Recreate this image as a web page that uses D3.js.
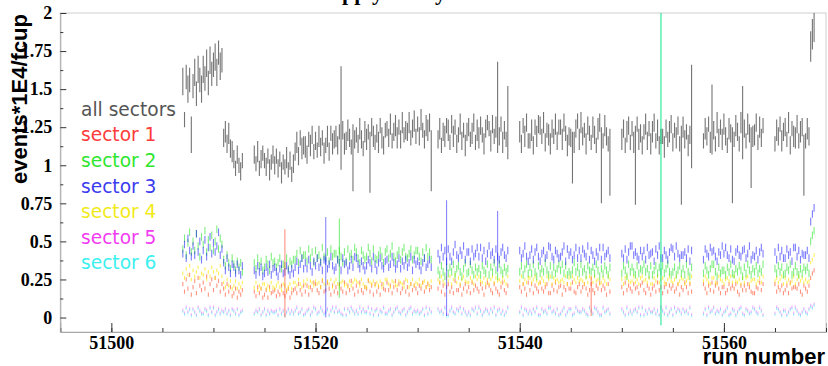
<!DOCTYPE html>
<html>
<head>
<meta charset="utf-8">
<script src="https://cdn.jsdelivr.net/npm/d3@7"></script>
<style>
  body { margin: 0; background: #fff; }
  svg { display: block; }
</style>
</head>
<body>
<svg id="yieldChart" width="828" height="366"></svg>
<script>
// runs with data, every run is split in 6 files (x = run + file/6)
const runs = [51507, 51508, 51509, 51510, 51511, 51512,
  51514, 51515, 51516, 51517, 51518, 51519, 51520, 51521, 51522, 51523, 51524, 51525,
  51526, 51527, 51528, 51529, 51530, 51531,
  51532, 51533, 51534, 51535, 51536, 51537, 51538,
  51540, 51541, 51542, 51543, 51544, 51545, 51546, 51547, 51548,
  51550, 51551, 51552, 51553, 51554, 51555, 51556,
  51558, 51559, 51560, 51561, 51562, 51563,
  51565, 51566, 51567, 51568];
const filesPerRun = 6;

// values are events*1E4/fcup in hundredths
const allSectors = [
  155,130,158,150,156,120, 152,161,147,163,156,150, 163,157,167,154,169,160,
  166,171,161,174,165,169, 118,122,114,121,111,109, 104,98,107,100,96,103,
  107,101,109,98,104,108, 103,99,106,97,102,107, 100,106,98,104,95,102,
  99,105,97,103,94,101, 109,115,106,118,111,113, 112,107,117,113,120,109,
  116,110,119,112,118,108, 113,119,109,121,114,117, 119,113,122,131,123,114,
  116,123,118,112,105,117, 120,114,124,117,111,122, 117,122,102,125,119,115,
  121,115,126,118,113,123, 124,118,127,116,122,126, 118,125,117,128,120,123,
  122,128,118,124,129,119, 127,119,130,123,117,126, 123,128,103,null,null,null,
  117,124,113,122,119,126, 123,115,127,119,125,114, 120,127,116,123,113,122,
  125,117,121,128,115,123, 118,126,120,114,124,128, 124,116,127,119,125,138,
  119,127,115,123,117,128,
  122,114,126,119,128,116, 116,123,113,125,119,127, 126,119,128,115,123,120,
  114,124,119,127,116,125, 125,117,128,121,113,119, 118,105,115,124,129,117,
  128,119,123,114,126,121, 115,125,120,113,124,128, 100,116,126,119,114,102,
  117,124,113,122,126,115, 124,115,100,127,117,121, 113,122,127,116,124,114,
  122,128,116,123,113,119, 119,112,124,117,122,127, 115,123,118,126,114,100,
  125,117,122,113,120,132,
  116,124,119,127,115,130, 123,114,128,118,125,117, 127,119,113,124,121,100,
  117,126,122,114,128,128, 124,116,127,121,105,119, 120,128,115,125,118,126,
  114,123,119,127,116,122, 125,117,128,113,124,119, 118,127,116,122,125,100,
  116,124,119,178,186,193
];
const allSectorsErr = [
  9,5,8,9,8,12, 8,9,8,9,8,9, 9,8,9,8,9,8,
  8,9,9,8,9,8, 6,7,6,7,6,7, 6,5,6,5,6,5,
  6,5,7,5,6,5, 5,6,5,7,5,6, 6,5,6,5,7,5,
  5,7,5,6,5,6, 6,7,6,5,7,6, 7,6,5,7,6,5,
  6,5,7,6,5,7, 5,7,6,5,7,6, 7,6,5,34,6,7,
  6,7,6,5,22,6, 5,6,7,6,5,7, 7,5,20,6,7,5,
  6,7,5,7,6,5, 5,6,7,5,6,7, 7,5,6,7,5,6,
  6,7,5,6,7,5, 5,6,7,5,6,7, 7,6,20,0,0,0,
  6,7,5,6,7,5, 7,5,6,7,5,6, 5,7,6,5,7,6,
  6,5,7,6,5,7, 7,6,5,7,6,5, 5,7,6,5,7,30,
  6,5,7,6,5,24,
  7,6,5,7,6,5, 5,7,6,5,7,6, 6,5,7,6,5,7,
  7,6,5,7,6,5, 5,7,6,5,7,6, 6,17,7,6,5,7,
  7,6,5,7,6,5, 5,7,6,5,7,6, 25,5,7,6,5,22,
  7,6,5,7,6,5, 5,7,26,5,7,6, 6,5,7,6,5,7,
  7,6,5,7,6,5, 5,7,6,5,7,6, 6,5,7,6,5,26,
  7,6,5,7,6,34,
  5,7,6,5,7,23, 6,5,7,6,5,7, 7,6,5,7,6,25,
  5,7,6,5,7,24, 6,5,7,6,20,7, 7,6,5,7,6,5,
  5,7,6,5,7,6, 6,5,7,6,5,7, 7,6,5,7,6,20,
  5,7,6,10,10,12
];

const sector1 = [
  22,17,25,19,28,15, 20,24,16,26,21,18, 23,19,27,15,22,25,
  18,26,21,24,17,22, 19,15,22,17,20,14, 16,19,13,17,15,18,
  17,14,20,16,19,13, 15,18,13,20,16,17, 18,14,17,15,21,16,
  14,17,19,13,16,18, 19,16,22,18,15,21, 17,21,15,20,18,23,
  22,18,16,20,24,17, 18,23,19,15,21,17, 20,16,22,19,17,23,
  16,21,18,24,19,15, 21,17,23,18,16,20, 19,24,17,21,15,22,
  17,20,15,22,19,18, 23,18,21,16,20,24, 18,22,16,19,23,17,
  20,15,22,18,21,19, 16,21,19,23,17,20, 22,18,20,null,null,null,
  19,23,17,21,15,20, 22,17,20,16,24,18, 18,21,15,19,22,17,
  20,16,23,18,21,19, 17,22,19,15,20,23, 21,18,16,22,19,17,
  15,20,23,18,16,21,
  20,17,22,19,15,23, 18,22,16,21,19,17, 23,19,17,20,22,16,
  16,21,18,23,17,20, 21,15,20,18,22,19, 19,23,17,16,20,22,
  17,20,22,19,15,18, 22,18,16,21,19,23, 18,21,19,15,22,17,
  20,16,23,18,21,19, 17,22,19,20,16,21, 23,18,16,21,19,15,
  19,21,17,23,18,20, 16,20,22,17,21,19, 21,17,19,22,15,20,
  18,23,20,16,22,17,
  22,19,16,21,18,23, 17,21,23,19,16,20, 20,16,18,22,19,21,
  19,22,17,15,21,18, 21,18,22,20,17,16, 16,20,19,23,18,22,
  22,17,20,18,21,16, 18,21,16,23,19,20, 20,19,22,17,15,21,
  19,17,21,26,29,31
];
const sector2 = [
  45,52,41,49,56,43, 50,44,55,47,40,53, 48,57,43,51,46,54,
  44,50,58,45,52,48, 38,34,41,36,32,39, 35,31,37,33,36,30,
  36,32,39,34,37,31, 33,38,35,31,40,36, 37,33,36,39,32,35,
  34,39,32,37,35,38, 38,42,36,44,39,41, 41,37,45,39,43,36,
  44,39,41,37,46,40, 39,43,37,45,40,42, 42,38,44,40,36,43,
  37,45,40,42,38,46, 43,39,36,44,41,38, 40,46,42,37,45,39,
  38,41,44,40,36,43, 45,39,42,47,40,37, 41,44,38,43,46,40,
  39,42,45,38,41,44, 44,40,37,43,39,46, 40,43,38,null,null,null,
  31,28,34,30,27,33, 29,33,30,35,28,32, 34,30,27,32,36,29,
  30,35,31,28,33,30, 32,28,34,31,29,35, 28,33,30,36,31,27,
  35,31,29,33,30,32,
  30,34,28,32,35,29, 33,29,35,30,27,34, 29,32,30,36,31,28,
  34,28,33,29,32,35, 31,35,29,34,28,30, 28,31,36,30,33,29,
  35,30,32,28,34,31, 30,33,29,35,31,27, 32,29,34,31,28,33,
  29,34,31,27,35,30, 33,30,28,34,29,32, 31,35,30,32,28,34,
  28,31,34,29,33,30, 34,29,32,35,30,28, 30,33,28,31,34,29,
  32,28,35,30,27,33,
  29,34,31,28,32,35, 35,30,27,33,29,31, 31,28,33,30,35,29,
  28,32,30,34,31,27, 33,29,35,31,28,32, 30,34,29,32,30,35,
  32,29,34,30,33,28, 29,33,31,35,28,30, 34,30,28,32,29,33,
  31,33,29,50,54,57
];
const sector3 = [
  42,48,39,52,44,40, 47,41,55,43,50,38, 44,51,40,46,53,42,
  49,43,47,56,41,45, 36,31,39,33,29,35, 33,29,35,31,28,34,
  31,28,34,30,33,27, 29,33,30,35,28,32, 33,30,27,32,35,29,
  30,34,31,28,32,29, 33,37,31,35,39,32, 36,32,38,34,30,37,
  34,39,33,36,31,38, 37,32,35,40,34,31, 33,38,36,31,39,35,
  36,31,34,38,33,40, 39,35,32,37,34,31, 34,38,36,32,40,35,
  31,36,39,34,32,37, 38,33,35,40,36,32, 35,39,32,37,34,38,
  33,36,40,31,38,35, 37,34,31,36,39,33, 35,38,33,null,null,null,
  42,38,46,40,44,37, 45,40,37,43,48,41, 39,44,41,47,38,43,
  43,37,45,40,42,46, 40,46,39,44,37,42, 47,41,43,38,45,40,
  38,43,46,41,39,44,
  44,39,42,47,40,37, 41,45,38,43,46,40, 37,42,44,39,41,47,
  46,40,38,44,42,39, 40,43,47,37,45,41, 43,38,41,46,39,44,
  39,45,42,40,47,38, 44,41,37,43,40,46, 38,46,40,42,44,39,
  42,39,45,38,43,47, 47,41,43,40,38,44, 40,44,38,46,41,42,
  43,37,45,41,47,39, 39,44,41,38,43,46, 45,40,47,42,39,41,
  41,43,39,45,37,44,
  38,45,42,40,46,43, 44,40,37,43,41,47, 42,46,41,39,45,38,
  37,43,45,41,40,44, 45,39,42,47,38,41, 40,44,38,43,46,42,
  43,38,46,40,44,39, 39,45,41,43,37,46, 46,40,44,38,42,41,
  41,44,39,63,68,72
];
const sector4 = [
  29,26,32,28,34,25, 31,27,30,33,26,29, 28,32,25,30,27,33,
  30,26,31,29,34,27, 23,20,25,21,24,19, 21,24,19,22,20,23,
  20,23,18,21,19,22, 22,19,21,18,23,20, 19,21,23,20,18,22,
  21,18,20,22,19,23, 23,21,25,22,20,24, 22,25,20,24,23,21,
  24,22,23,20,25,22, 21,24,22,25,20,23, 25,22,20,23,24,21,
  22,20,24,21,23,25, 24,23,21,25,22,20, 20,25,23,22,24,21,
  23,21,24,20,22,25, 25,22,20,24,23,21, 21,24,23,22,20,25,
  24,20,22,25,21,23, 22,25,21,23,24,20, 23,21,24,null,null,null,
  25,23,27,24,22,26, 24,27,22,25,28,23, 26,22,25,27,24,23,
  23,26,24,22,27,25, 27,24,23,26,22,25, 22,25,27,23,26,24,
  25,23,26,24,22,27,
  24,27,22,25,23,26, 26,23,25,27,24,22, 23,26,24,22,27,25,
  27,22,26,24,25,23, 24,25,23,27,22,26, 22,27,25,23,26,24,
  25,24,22,26,23,27, 26,23,27,24,25,22, 23,26,24,22,27,25,
  25,22,26,27,24,23, 24,27,23,25,22,26, 27,24,25,23,26,22,
  22,26,24,27,23,25, 26,23,22,25,27,24, 23,25,27,22,24,26,
  25,22,24,26,23,27,
  24,27,25,23,22,26, 26,23,22,27,25,24, 22,25,26,24,27,23,
  27,24,23,25,22,26, 23,26,27,22,24,25, 25,22,24,26,23,27,
  24,26,23,25,27,22, 26,23,25,22,24,27, 22,25,27,24,26,23,
  25,23,24,36,38,41
];
const sector5 = [
  5,3,7,4,6,2, 6,4,2,7,5,3, 3,6,5,2,7,4,
  7,2,4,6,3,5, 4,6,3,5,2,6, 5,3,6,2,4,5,
  3,5,4,6,2,4, 6,2,5,3,5,4, 4,5,2,6,3,5,
  2,4,6,3,5,3, 5,7,3,4,6,2, 3,5,6,2,4,7,
  6,3,4,7,5,3, 4,6,2,5,7,4, 7,4,5,3,2,6,
  2,6,4,7,5,3, 5,3,7,4,6,4, 4,7,3,6,2,5,
  6,2,5,4,7,3, 3,5,6,2,4,6, 7,4,3,5,6,2,
  4,6,7,3,5,4, 5,3,4,6,2,7, 3,6,4,null,null,null,
  6,4,5,3,7,2, 2,5,7,4,3,6, 5,7,3,6,4,2,
  4,2,6,5,7,3, 7,5,2,4,6,5, 3,6,4,7,2,5,
  6,3,5,2,4,7,
  4,7,2,6,5,3, 5,3,6,4,7,2, 2,6,4,5,3,7,
  7,4,5,3,6,2, 3,5,7,2,4,6, 6,2,3,7,5,4,
  4,6,5,3,2,7, 5,3,7,6,4,2, 2,7,4,5,6,3,
  6,4,2,7,3,5, 3,5,6,4,7,2, 7,2,5,3,6,4,
  4,6,3,5,2,7, 5,3,7,2,4,6, 2,7,4,6,5,3,
  6,4,5,3,7,2,
  3,6,2,7,4,5, 7,3,5,4,6,2, 4,5,7,2,3,6,
  5,2,4,6,7,3, 2,6,5,3,4,7, 6,4,3,7,5,2,
  3,7,6,4,2,5, 5,2,4,6,7,3, 7,5,3,2,4,6,
  4,3,6,8,7,9
];
const sector6 = [
  4,2,6,3,5,1, 5,3,1,6,4,2, 2,5,4,1,6,3,
  6,1,3,5,2,4, 3,5,2,4,1,5, 4,2,5,1,3,4,
  2,4,3,5,1,3, 5,1,4,2,4,3, 3,4,1,5,2,4,
  1,3,5,2,4,2, 4,6,2,3,5,1, 2,4,5,1,3,6,
  5,2,3,6,4,2, 3,5,1,4,6,3, 6,3,4,2,1,5,
  1,5,3,6,4,2, 4,2,6,3,5,3, 3,6,2,5,1,4,
  5,1,4,3,6,2, 2,4,5,1,3,5, 6,3,2,4,5,1,
  3,5,6,2,4,3, 4,2,3,5,1,6, 2,5,3,null,null,null,
  5,3,4,2,6,1, 1,4,6,3,2,5, 4,6,2,5,3,1,
  3,1,5,4,6,2, 6,4,1,3,5,4, 2,5,3,6,1,4,
  5,2,4,1,3,6,
  3,6,1,5,4,2, 4,2,5,3,6,1, 1,5,3,4,2,6,
  6,3,4,2,5,1, 2,4,6,1,3,5, 5,1,2,6,4,3,
  3,5,4,2,1,6, 4,2,6,5,3,1, 1,6,3,4,5,2,
  5,3,1,6,2,4, 2,4,5,3,6,1, 6,1,4,2,5,3,
  3,5,2,4,1,6, 4,2,6,1,3,5, 1,6,3,5,4,2,
  5,3,4,2,6,1,
  2,5,1,6,3,4, 6,2,4,3,5,1, 3,4,6,1,2,5,
  4,1,3,5,6,2, 1,5,4,2,3,6, 5,3,2,6,4,1,
  2,6,5,3,1,4, 4,1,3,5,6,2, 6,4,2,1,3,5,
  3,2,5,7,6,8
];
const sectorValues = [sector1, sector2, sector3, sector4, sector5, sector6];
const sectorErr = [0.014, 0.025, 0.025, 0.012, 0.01, 0.01];

// files with very few events: [sector index, run, file, value, error]
const lowStatFiles = [
  [0, 51517, 0, 0.29, 0.29],
  [2, 51521, 0, 0.33, 0.33],
  [1, 51522, 2, 0.39, 0.26],
  [2, 51532, 5, 0.39, 0.38],
  [2, 51537, 5, 0.50, 0.20],
  [0, 51547, 0, 0.14, 0.13],
  [1, 51553, 5, 1.00, 1.05],
  [5, 51553, 5, 1.00, 1.05]
];

const legendLabels = ["all sectors", "sector 1", "sector 2", "sector 3", "sector 4", "sector 5", "sector 6"];
const legendColors = ["#555555", "#ff3b3b", "#2ee62e", "#3b3bf0", "#f2ea1a", "#f23cf2", "#3cf0f0"];
const markColors = ["#ff2a00", "#00e000", "#1010ff", "#ffe600", "#ff00ff", "#00e8e8"];
const markOpacity = [0.5, 0.5, 0.55, 0.65, 0.3, 0.35];

const xMajorTicks = [51500, 51520, 51540, 51560];
const yMajorTicks = [0, 0.25, 0.5, 0.75, 1, 1.25, 1.5, 1.75, 2];

function toPoints(values, errFor) {
    const pts = [];
    values.forEach((v, i) => {
        if (v === null) return;
        const run = runs[Math.floor(i / filesPerRun)];
        pts.push({ x: run + (i % filesPerRun) / filesPerRun, v: v / 100, e: errFor(i) });
    });
    return pts;
}

function drawYieldChart() {
    const svg = d3.select("#yieldChart");
    const left = 60.3, right = 826, top = 13, bottom = 332;

    const xScale = d3.scaleLinear().domain([51495, 51570]).range([left, right]);
    const yScale = d3.scaleLinear().domain([-0.095, 2.0]).range([bottom, top]);

    svg.append("defs").append("clipPath").attr("id", "plotClip")
        .append("rect")
        .attr("x", left).attr("y", top)
        .attr("width", right - left).attr("height", bottom - top);

    // title sits mostly above the page, only the descenders show
    svg.append("text")
        .attr("x", 420).attr("y", 0)
        .attr("text-anchor", "middle")
        .style("font", "bold 22px 'Liberation Serif', serif")
        .text("epp yield by sector");

    // frame
    svg.append("rect")
        .attr("x", left).attr("y", top)
        .attr("width", right - left).attr("height", bottom - top)
        .attr("fill", "none").attr("stroke", "#cfcfcf");

    const plot = svg.append("g").attr("clip-path", "url(#plotClip)");

    function drawMarks(points, color, opacity) {
        plot.append("g")
            .attr("stroke", color)
            .attr("stroke-opacity", opacity)
            .attr("stroke-width", 1.1)
            .selectAll("line")
            .data(points)
            .join("line")
            .attr("x1", d => xScale(d.x))
            .attr("x2", d => xScale(d.x))
            .attr("y1", d => Math.max(yScale(d.v - d.e), yScale(d.v) + 1))
            .attr("y2", d => Math.min(yScale(d.v + d.e), yScale(d.v) - 1));
    }

    // draw magenta/cyan first, then red/yellow, green and blue on top
    [4, 5, 0, 3, 1, 2].forEach(s => {
        drawMarks(toPoints(sectorValues[s], () => sectorErr[s]), markColors[s], markOpacity[s]);
    });
    drawMarks(toPoints(allSectors, i => allSectorsErr[i] / 100), "#1e1e1e", 0.62);

    lowStatFiles.forEach(([s, run, file, v, e]) => {
        drawMarks([{ x: run + file / filesPerRun, v: v, e: e }], markColors[s], 0.5);
    });

    // axes, ticks pointing into the frame
    const xAxis = svg.append("g")
        .attr("transform", `translate(0,${bottom})`)
        .call(d3.axisBottom(xScale).tickValues(xMajorTicks).tickSize(-9).tickPadding(4).tickFormat(d3.format("d")));
    svg.append("g")
        .attr("transform", `translate(0,${bottom})`)
        .call(d3.axisBottom(xScale).tickValues(d3.range(51495, 51571, 5)).tickSize(-4).tickFormat(""))
        .call(g => g.select(".domain").remove());

    const yAxis = svg.append("g")
        .attr("transform", `translate(${left},0)`)
        .call(d3.axisLeft(yScale).tickValues(yMajorTicks).tickSize(-6).tickPadding(8).tickFormat(d3.format("~g")));
    svg.append("g")
        .attr("transform", `translate(${left},0)`)
        .call(d3.axisLeft(yScale).tickValues(d3.range(0.125, 2, 0.25)).tickSize(-3).tickFormat(""))
        .call(g => g.select(".domain").remove());

    svg.selectAll(".domain").attr("stroke", "#a8a8a8");
    svg.selectAll(".tick line").attr("stroke", "#333");
    [xAxis, yAxis].forEach(a => a.selectAll("text")
        .attr("fill", "#000")
        .style("font", "bold 18px 'Liberation Serif', serif"));

    // axis titles
    svg.append("text")
        .attr("transform", "translate(27,14) rotate(-90)")
        .attr("text-anchor", "end")
        .style("font", "bold 22px 'Liberation Sans', Arial, sans-serif")
        .text("events*1E4/fcup");
    svg.append("text")
        .attr("x", 825).attr("y", 364)
        .attr("text-anchor", "end")
        .style("font", "bold 22px 'Liberation Sans', Arial, sans-serif")
        .text("run number");

    // legend
    svg.append("g")
        .selectAll("text")
        .data(legendLabels)
        .join("text")
        .attr("x", 81)
        .attr("y", (d, i) => 115.7 + i * 25.6)
        .attr("fill", (d, i) => legendColors[i])
        .style("font", "18.6px 'DejaVu Sans', sans-serif")
        .text(d => d);
}

drawYieldChart();
</script>
</body>
</html>
